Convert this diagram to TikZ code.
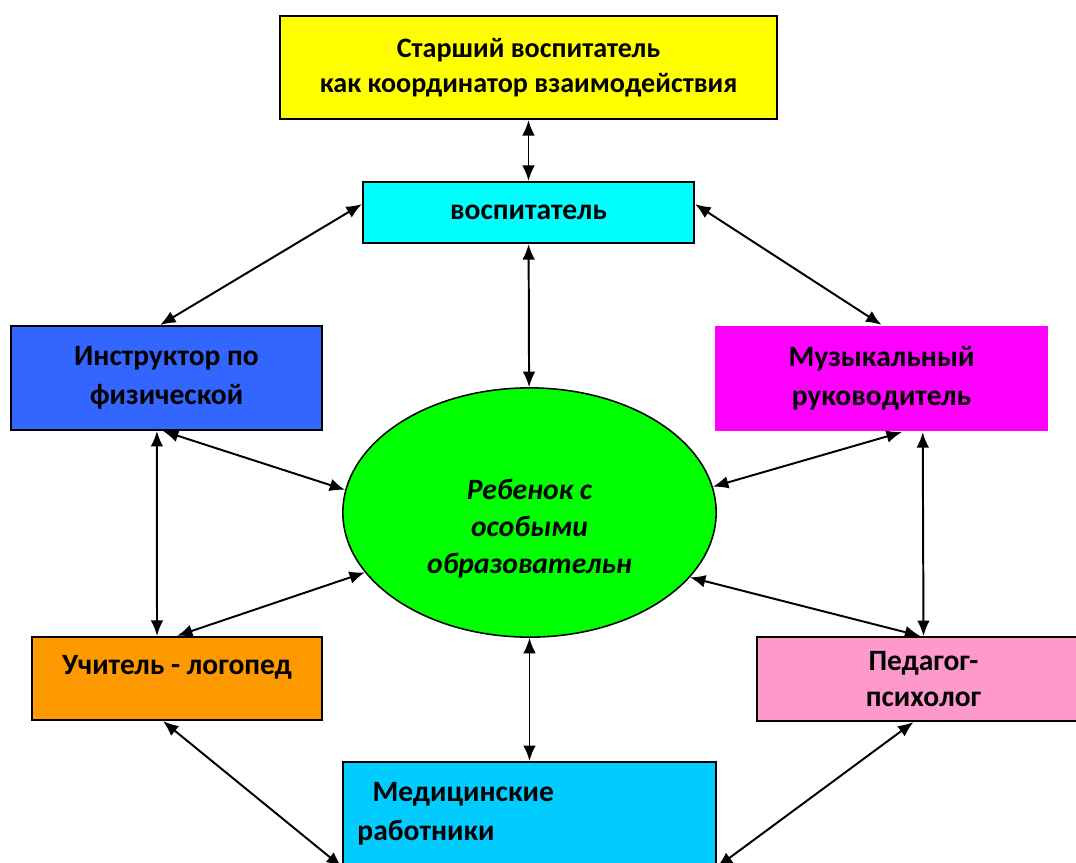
\documentclass[tikz,border=0pt]{standalone}
\usepackage{fontspec}
\setmainfont{Carlito}
\usetikzlibrary{shapes,arrows.meta}

\definecolor{senioryellow}{HTML}{FFFF00}
\definecolor{vospcyan}{HTML}{00FFFF}
\definecolor{instrblue}{HTML}{3366FF}
\definecolor{muzmagenta}{HTML}{FF00FF}
\definecolor{childgreen}{HTML}{00FF00}
\definecolor{logoorange}{HTML}{FF9900}
\definecolor{psychpink}{HTML}{FF99CC}
\definecolor{medblue}{HTML}{00CCFF}

\tikzset{
  box/.style={draw, rectangle, align=center, font=\bfseries\fontsize{21}{25}\selectfont},
  wide/.style={font=\bfseries\fontsize{21}{28}\selectfont},
}

\begin{document}
\begin{tikzpicture}[<->,>={Latex[length=11pt,width=9pt]},line width=1.4pt,x=0.025cm,y=-0.025cm]
		\useasboundingbox (0,0) rectangle (1076,862);
		\clip (0,0) rectangle (1076,862);
		
		\node[box, fill=senioryellow, minimum width=12.43cm, minimum height=2.58cm, font=\bfseries\fontsize{20}{25}\selectfont] (senior) at (528.5,67.5) {Старший воспитатель\\как координатор взаимодействия};
		\node[box, fill=vospcyan, minimum width=8.28cm, minimum height=1.53cm] (vosp) at (528.5,212.5) {воспитатель};
		\node[box, wide, fill=instrblue, minimum width=7.78cm, minimum height=2.6cm] (instr) at (166.5,378) {Инструктор по\\физической};
		\node[box, wide, draw=none, fill=muzmagenta, minimum width=8.33cm, minimum height=2.63cm] (muz) at (881.5,378.5) {Музыкальный\\руководитель};
		\node[draw, ellipse, fill=childgreen, line width=1.1pt, minimum width=9.33cm, minimum height=6.23cm, font=\bfseries\itshape\fontsize{21}{26.5}\selectfont] (child) at (529.5,512.5) {\raisebox{-0.6cm}[0pt][0pt]{\begin{tabular}{@{}c@{}}Ребенок с\\особыми\\образовательн\end{tabular}}};
		\node[box, fill=logoorange, minimum width=7.25cm, minimum height=2.08cm] (logoped) at (177,678.5) {\raisebox{0.09cm}[0pt][0pt]{Учитель - логопед}};
		\node[box, fill=psychpink, inner sep=1pt, minimum width=8.33cm, minimum height=2.1cm] (psych) at (923.5,679) {Педагог-\\психолог};
		\node[box, wide, fill=medblue, minimum width=9.33cm, minimum height=2.6cm, text width=8.6cm, align=left] (med) at (529.5,814) {\hspace*{0.38cm}Медицинские\\работники};
		
		\path (senior) edge (vosp);
		\path (vosp) edge (child);
		\path ([yshift=0.21cm]vosp.west) edge ([xshift=-0.16cm]instr.north);
		\path ([yshift=0.21cm]vosp.east) edge (muz.north);
		\path ([xshift=-0.09cm]instr.south) edge (child.173);
		\path ([xshift=-0.24cm]instr.south) edge ([xshift=-0.5cm]logoped.north);
		\path (logoped.north) edge (child.200);
		\path ([xshift=0.51cm]muz.south) edge (child.8);
		\path ([xshift=1.03cm]muz.south) edge (psych.north);
		\path (child.-22) edge ([xshift=-0.08cm]psych.north);
		\path (child) edge (med);
		\path ([xshift=-0.35cm]logoped.south) edge (med.south west);
		\path ([xshift=-0.25cm]psych.south) edge (med.south east);
		
	\end{tikzpicture}
\end{document}
